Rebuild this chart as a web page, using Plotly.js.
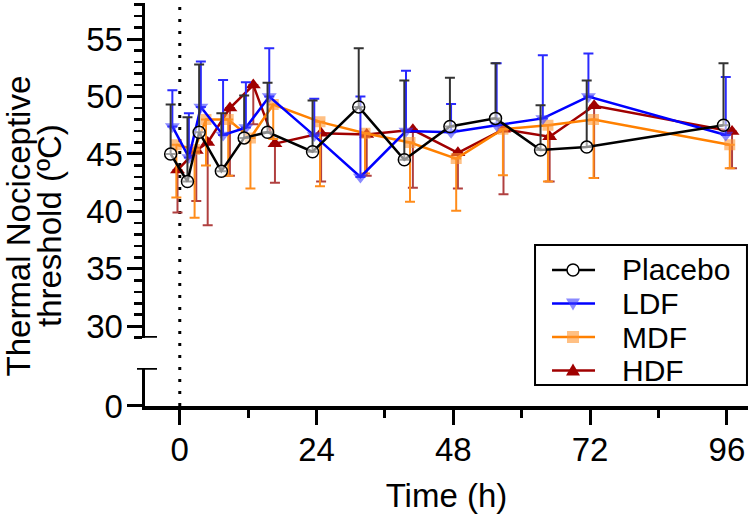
<!DOCTYPE html>
<html><head><meta charset="utf-8">
<script src="https://cdn.plot.ly/plotly-3.0.1.min.js"></script>
<style>html,body{margin:0;padding:0;background:#fff}#chart{width:755px;height:519px}</style>
</head><body><div id="chart"></div>
<script>
// ---- data ----
const seriesNames = ['Placebo', 'LDF', 'MDF', 'HDF'];

const placeboTime = [-1.6, 1.35, 3.4, 7.3, 11.3, 15.4, 23.3, 31.4, 39.4, 47.4, 55.4, 63.3, 71.4, 95.4];
const placeboMean = [45.0, 42.6, 46.9, 43.5, 46.4, 46.9, 45.2, 49.1, 44.5, 47.4, 48.1, 45.35, 45.6, 47.5];
const placeboErrUp = [4.3, 5.6, 5.9, 5.05, 3.7, 4.3, 4.45, 5.1, 6.9, 4.25, 4.8, 3.9, 5.8, 5.4];

const ldfTime = [-1.3, 1.6, 3.7, 7.6, 11.6, 15.7, 23.6, 31.7, 39.7, 47.6, 55.6, 63.7, 71.7, 95.8];
const ldfMean = [47.4, 44.7, 49.1, 46.65, 47.3, 50.0, 46.6, 43.0, 47.0, 46.9, 47.5, 48.1, 50.0, 46.65];
const ldfErrUp = [3.15, 3.85, 3.95, 4.8, 3.95, 4.2, 3.2, 7.0, 5.25, 2.45, 5.4, 5.5, 3.75, 5.05];

const mdfTime = [-0.6, 2.6, 4.6, 8.5, 12.4, 16.4, 24.6, 32.5, 40.4, 48.5, 56.7, 64.6, 72.6, 96.5];
const mdfMean = [45.8, 45.4, 48.0, 48.0, 46.4, 49.3, 47.8, 46.8, 46.0, 44.6, 47.15, 47.5, 48.0, 45.8];
const mdfErrDown = [4.6, 5.95, 4.0, 4.9, 4.4, 3.0, 5.6, 3.5, 5.15, 4.55, 4.0, 4.9, 5.1, 2.05];

const hdfTime = [-0.4, 2.9, 4.9, 8.8, 12.9, 16.7, 24.8, 32.8, 40.9, 48.8, 56.8, 64.9, 72.7, 96.9];
const hdfMean = [43.6, 45.3, 46.0, 49.0, 51.0, 45.9, 46.8, 46.7, 47.1, 45.1, 47.15, 46.5, 49.2, 46.95];
const hdfErrDown = [3.7, 4.4, 7.2, 5.9, 3.4, 3.4, 4.2, 3.6, 5.05, 3.1, 5.65, 3.9, 6.3, 3.2];

const xTickVals = [0, 24, 48, 72, 96];
const xMinorTickVals = [12, 36, 60, 84];
const yTitleLines = ['Thermal Nociceptive', 'threshold (ºC)'];
const xTitle = 'Time (h)';

// ---- chart ----
const FONT = '"Liberation Sans", Arial, Helvetica, sans-serif';
const FS = 33;
const LFS = 30;
const COL = {Placebo: '#000000', LDF: '#0000ff', MDF: '#ff8000', HDF: '#a00000'};

function upOnly(e) { return {type: 'data', symmetric: false, array: e, arrayminus: [], thickness: 2, width: 5}; }
function downOnly(e) { return {type: 'data', symmetric: false, array: [], arrayminus: e, thickness: 2, width: 5}; }

const traces = [
  {name: seriesNames[3], x: hdfTime, y: hdfMean, type: 'scatter', mode: 'lines+markers',
   line: {color: COL.HDF, width: 2.5},
   marker: {symbol: 'triangle-up', size: 13, color: COL.HDF, line: {width: 0}},
   error_y: Object.assign(downOnly(hdfErrDown), {color: '#b04040'})},
  {name: seriesNames[2], x: mdfTime, y: mdfMean, type: 'scatter', mode: 'lines+markers',
   line: {color: COL.MDF, width: 2.5},
   marker: {symbol: 'square', size: 11, color: 'rgba(255,150,50,0.6)', line: {width: 0}},
   error_y: Object.assign(downOnly(mdfErrDown), {color: '#ff8c1a'})},
  {name: seriesNames[1], x: ldfTime, y: ldfMean, type: 'scatter', mode: 'lines+markers',
   line: {color: COL.LDF, width: 2.5},
   marker: {symbol: 'triangle-down', size: 13, color: 'rgba(60,60,255,0.6)', line: {width: 0}},
   error_y: Object.assign(upOnly(ldfErrUp), {color: '#2a2aff'})},
  {name: seriesNames[0], x: placeboTime, y: placeboMean, type: 'scatter', mode: 'lines+markers',
   line: {color: COL.Placebo, width: 2.5},
   marker: {symbol: 'circle', size: 12, color: 'rgba(255,255,255,0.55)', line: {width: 1.5, color: '#000'}},
   error_y: Object.assign(upOnly(placeboErrUp), {color: '#333333'})}
];

// legend drawn as a boxed key (rows: Placebo, LDF, MDF, HDF)
const legendRowsY = [0.3375, 0.2543, 0.1712, 0.0881];
const legendMarkers = [
  {type: 'circle', x0: -6, x1: 6, y0: -6, y1: 6, fillcolor: '#fff', line: {color: '#000', width: 1.5}},
  {type: 'path', path: 'M-7,5L7,5L0,-7Z', fillcolor: 'rgba(60,60,255,0.6)', line: {width: 0}},
  {type: 'rect', x0: -6, x1: 6, y0: -6, y1: 6, fillcolor: 'rgba(255,150,50,0.6)', line: {width: 0}},
  {type: 'path', path: 'M-7,-5L7,-5L0,7Z', fillcolor: COL.HDF, line: {width: 0}}
];
const legendShapes = [{type: 'rect', xref: 'paper', yref: 'paper', x0: 0.6468, x1: 0.9983, y0: 0.0521, y1: 0.3995,
  fillcolor: '#fff', line: {color: '#000', width: 2}, layer: 'above'}];
const legendAnn = [];
seriesNames.forEach((nm, i) => {
  legendShapes.push({type: 'line', xref: 'paper', yref: 'paper', x0: 0.675, x1: 0.7463, y0: legendRowsY[i], y1: legendRowsY[i],
    line: {color: COL[nm], width: 2.5}, layer: 'above'});
  legendShapes.push(Object.assign({xref: 'paper', yref: 'paper', xsizemode: 'pixel', ysizemode: 'pixel',
    xanchor: 0.7098, yanchor: legendRowsY[i], layer: 'above'}, legendMarkers[i]));
  legendAnn.push({text: nm, xref: 'paper', yref: 'paper', x: 0.788, y: legendRowsY[i], xanchor: 'left', yanchor: 'middle',
    showarrow: false, font: {size: LFS, color: '#000'}});
});

const layout = {
  width: 755, height: 519,
  margin: {l: 145, r: 7, t: 3, b: 113},
  paper_bgcolor: '#fff', plot_bgcolor: '#fff',
  font: {family: FONT, size: FS, color: '#000'},
  showlegend: false,
  xaxis: {domain: [0, 1], anchor: 'y2', range: [-6.1, 99.7], tickvals: xTickVals, ticks: 'outside',
          ticklen: 15, tickwidth: 3, tickcolor: '#000', showline: true, linewidth: 3.5, linecolor: '#000',
          showgrid: false, zeroline: false, tickfont: {size: FS}, ticklabelstandoff: -3,
          minor: {tickvals: xMinorTickVals, ticks: 'outside', ticklen: 8, tickwidth: 3, tickcolor: '#000', showgrid: false},
          title: {text: xTitle, font: {size: FS}, standoff: 18}},
  yaxis: {domain: [0.1695, 1], anchor: 'x', range: [29, 58.15], tick0: 0, dtick: 5, ticks: 'outside',
          ticklen: 15, tickwidth: 3, tickcolor: '#000', showline: true, linewidth: 3.5, linecolor: '#000',
          showgrid: false, zeroline: false, tickfont: {size: FS}, ticklabelstandoff: -3,
          minor: {dtick: 1, ticks: 'outside', ticklen: 8, tickwidth: 2.5, tickcolor: '#000', showgrid: false}},
  yaxis2: {domain: [0, 0.0943], anchor: 'x', range: [0, 3.3], tickvals: [0], ticks: 'outside',
           ticklen: 15, tickwidth: 3, tickcolor: '#000', showline: true, linewidth: 3.5, linecolor: '#000',
           showgrid: false, zeroline: false, tickfont: {size: FS}, ticklabelstandoff: -3},
  shapes: [
    {type: 'line', xref: 'x', yref: 'paper', x0: 0, x1: 0, y0: 0, y1: 1,
     line: {color: '#000', width: 3, dash: '3px,9px'}, layer: 'below'},
    {type: 'line', xref: 'paper', yref: 'y', x0: -0.0133, x1: 0.0199, y0: 29, y1: 29,
     line: {color: '#000', width: 3.5}},
    {type: 'line', xref: 'paper', yref: 'y2', x0: -0.0133, x1: 0.0199, y0: 3.3, y1: 3.3,
     line: {color: '#000', width: 3.5}}
  ].concat(legendShapes),
  annotations: [
    {text: yTitleLines[0], xref: 'paper', yref: 'paper', x: -0.2098, y: 0.4467, xanchor: 'center', yanchor: 'middle',
     textangle: -90, showarrow: false, font: {size: FS}},
    {text: yTitleLines[1], xref: 'paper', yref: 'paper', x: -0.1575, y: 0.4467, xanchor: 'center', yanchor: 'middle',
     textangle: -90, showarrow: false, font: {size: FS}}
  ].concat(legendAnn)
};

Plotly.newPlot('chart', traces, layout, {displayModeBar: false, staticPlot: true});
</script>
</body></html>
